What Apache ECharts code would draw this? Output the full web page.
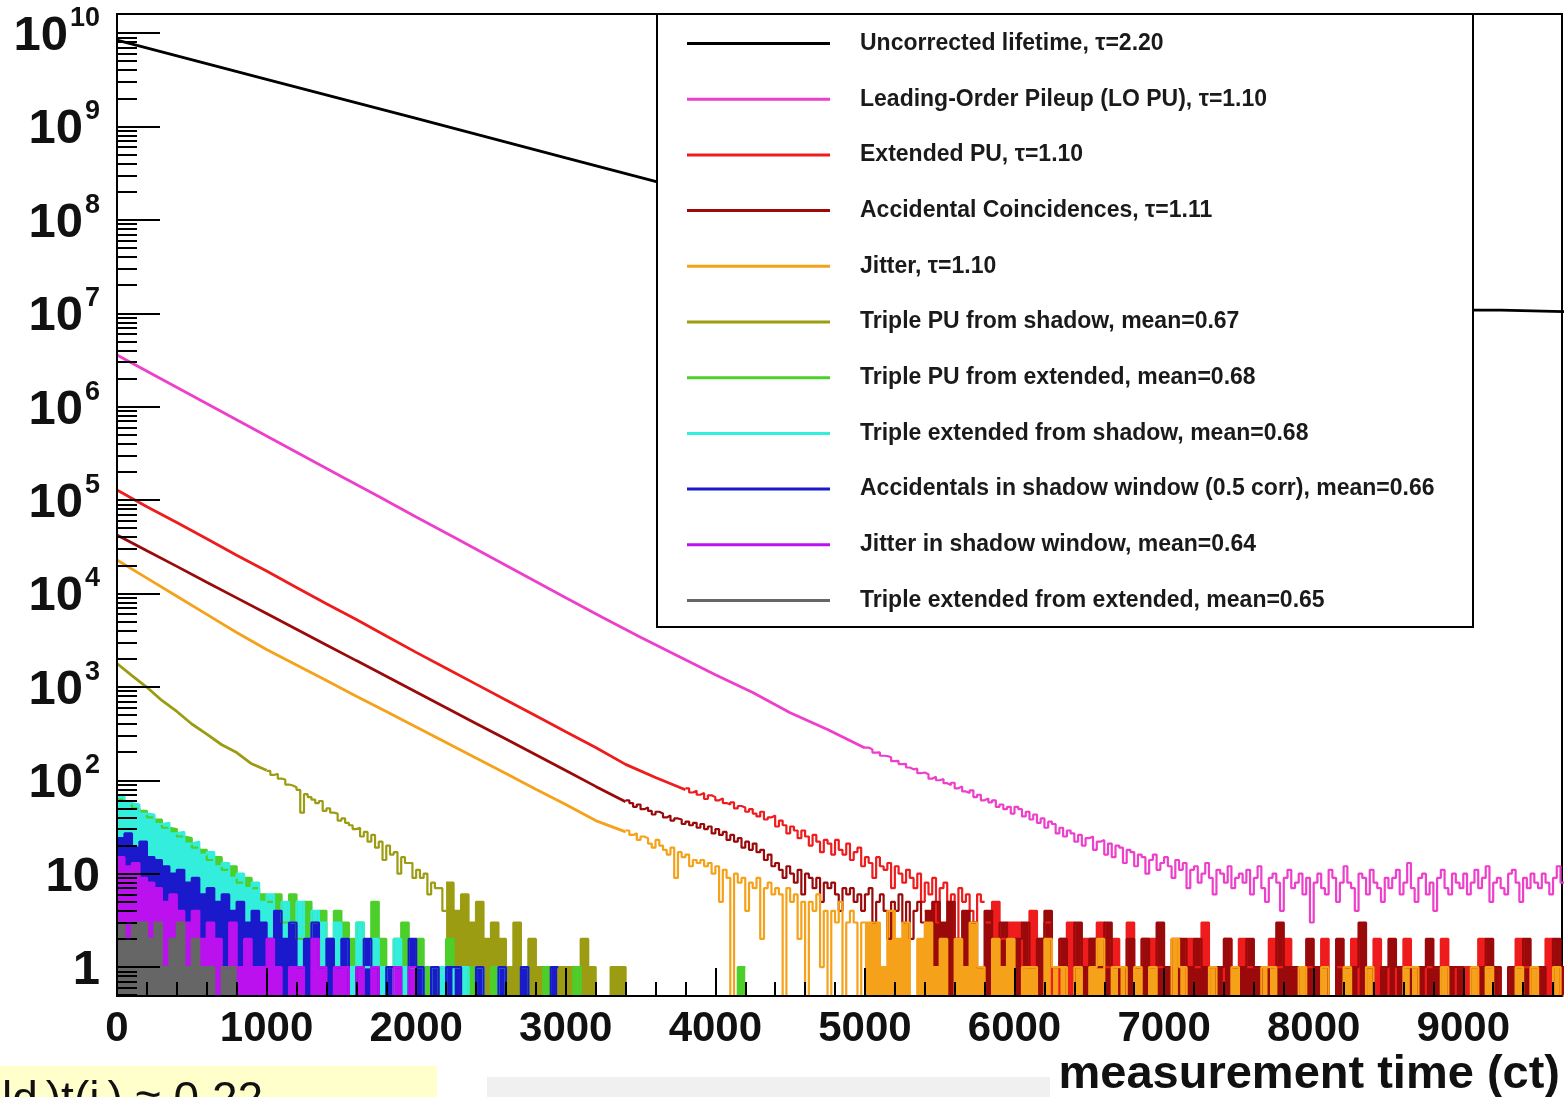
<!DOCTYPE html>
<html>
<head>
<meta charset="utf-8">
<script src="https://cdn.jsdelivr.net/npm/echarts@6/dist/echarts.min.js"></script>
<style>
html,body{margin:0;padding:0;background:#fff;}
#chart{width:1564px;height:1097px;}
</style>
</head>
<body>
<div id="chart"></div>
<script>
// ================= DATA =================
const seriesNames = [
  'Uncorrected lifetime, \u03c4=2.20',
  'Leading-Order Pileup (LO PU), \u03c4=1.10',
  'Extended PU, \u03c4=1.10',
  'Accidental Coincidences, \u03c4=1.11',
  'Jitter, \u03c4=1.10',
  'Triple PU from shadow, mean=0.67',
  'Triple PU from extended, mean=0.68',
  'Triple extended from shadow, mean=0.68',
  'Accidentals in shadow window (0.5 corr), mean=0.66',
  'Jitter in shadow window, mean=0.64',
  'Triple extended from extended, mean=0.65'
];
const xTickValues = [0,1000,2000,3000,4000,5000,6000,7000,8000,9000];
const yTickValues = [1,10,100,1e3,1e4,1e5,1e6,1e7,1e8,1e9,1e10];
const xAxisTitle = 'measurement time (ct)';
const FINE_BIN = 25;   // bin width (ct) of the noisy unfilled parts
const COARSE_BIN = 50; // bin width (ct) of the low-count parts

// Uncorrected lifetime (black)
const blackT = [0,1000,2000,3000,4000];
const blackV = [8.4e9,3.2e9,1.22e9,4.6e8,1.75e8];
const blackEdgeT = [9000,9250,9700];
const blackEdgeV = [1.08e7,1.04e7,1.04e7];

// LO PU (magenta)
const magentaHeadT = [0,250,500,750,1000,1250,1500,1750,2000,2250,2500,2750,3000,3250,3500,3750,4000,4250,4500,4750,5000];
const magentaHeadV = [3570000,2170000,1320000,800000,486000,295000,179000,109000,66000,40300,24400,14800,9000,5500,3400,2140,1350,870,528,350,221];
const magentaMidStart = 5000;
const magentaMidValues = [
 224,214,198,199,183,182,176,160,161,149,150,137,131,133,119,121,116,104,109,100,
 103,93,89,94,82,86,76,73,78,66,70,61,64,58,61,52,55,49,52,44,
 52,49,41,46,38,43,35,39,31,36,34,27,31,25,29,27,22,26,20,24,
 25,18,22,23,16,21,15,20,19,13,18,17,12,16,15,10,14,16,11,13,
 15,12,9,14,11,13,7,11,12,8,10,13,9,6,11,10,8,12,7,9,
 10,8,11,6,9,12,7,5,9,10,8,4,9,11,7,8,10,6,9,3,
 8,10,7,6,11,9,5,8,12,8,7,4,10,9,6,11,8,7,5,9,
 7,9,11,6,8,13,7,5,9,10,6,8,4,9,11,7,6,10,8,7,
 10,6,8,11,7,9,12,5,8,9,7,6,10,11,8,5,9,7,10,8,
 7,10,8,6,9,12,8];

// Extended PU (red)
const redHeadT = [0,200,400,600,800,1000,1200,1400,1600,1800,2000,2200,2400,2600,2800,3000,3200,3400,3600,3800];
const redHeadV = [128000,85000,57500,38500,25700,17400,11600,7760,5250,3510,2340,1585,1070,725,490,331,224,148,107,79];
const redMidStart = 3800;
const redMidValues = [
 82,74,77,70,73,63,69,66,61,64,57,55,58,50,53,51,46,49,44,41,
 46,38,40,42,32,37,33,27,32,29,24,29,25,20,26,22,17,23,21,16,
 23,18,16,21,14,17,19,12,15,13,9,15,12,11,13,7,12,10,8,11,
 9,7,10,5,8,6,9,3,7,8,5,6,2,7,5,6,4,3,6,5];
const redTailStart = 5800;
const redTailCounts = [3,5,2,3,
 3,1,4,2,3,0,2,3,1,2,
 2,3,1,2,0,3,1,2,2,1,
 1,2,0,2,1,3,1,0,2,1,
 2,1,1,0,2,1,2,1,0,1,
 1,2,0,1,1,2,0,1,2,1,
 0,1,2,1,0,1,1,2,0,1,
 1,0,2,1,1,0,1,2,1,0,
 1,2,0,1];

// Accidental coincidences (dark red)
const darkHeadT = [0,200,400,600,800,1000,1200,1400,1600,1800,2000,2200,2400,2600,2800,3000,3200,3400];
const darkHeadV = [42200,28600,19500,13200,8970,6100,4140,2810,1910,1300,881,598,406,276,188,127,86,59];
const darkMidStart = 3400;
const darkMidValues = [
 61,57,52,55,49,51,47,43,46,44,40,42,37,39,38,34,36,33,35,31,
 34,30,32,27,30,26,28,23,26,22,24,19,22,18,21,17,18,14,16,12,
 13,11,9,12,10,8,11,6,10,9,7,9,5,8,7,8,6,4,7,6,
 7,5,6,4,6,7,3,5,6,4,2,5,4,6,3,5,2,4,5,3];
const darkTailStart = 5400;
const darkTailCounts = [4,5,
 3,5,2,4,3,1,4,2,3,2,
 2,3,1,2,4,1,2,0,3,1,
 2,1,3,1,0,2,1,2,1,3,
 1,0,2,1,2,1,0,1,2,1,
 1,2,1,0,1,3,1,1,0,2,
 1,1,0,2,1,1,3,1,0,1,
 2,1,1,0,1,2,1,0,1,1,
 0,1,1,2,1,0,1,1,2,1,
 1,0,2,1];

// Jitter (orange)
const orangeHeadT = [0,200,400,600,800,1000,1200,1400,1600,1800,2000,2200,2400,2600,2800,3000,3200,3400];
const orangeHeadV = [22800,14600,9330,5970,3820,2510,1710,1170,795,545,372,254,173,118,80,55,37,28];
const orangeMidStart = 3400;
const orangeMidValues = [
 29,26,27,23,25,24,21,19,23,20,18,16,19,9,17,15,16,12,14,13,
 14,12,13,10,12,5,11,9,0,10,8,9,4,8,7,9,2,7,8,6,
 7,6,0,7,5,6,2,5,0,5,4,6,1,4,0,4,3,5,0,3,
 4,3,0,3];
const orangeTailStart = 5000;
const orangeTailCounts = [3,3,1,4,2,3,0,2,
 3,1,2,0,2,1,3,1,0,2,
 1,2,0,1,1,0,2,1,1,0,
 1,0,1,2,0,1,1,0,1,0,
 1,0,0,2,1,0,0,0,1,0,
 0,1,0,0,0,1,1,0,0,0,
 1,0,0,1,0,0,1,0,0,1,
 0,0,0,0,1,1,0,0,0,1,
 0,0,0,1,0,1,0,0,0,1,
 0,1,0,0,1,0];

// Triple PU from shadow (olive)
const oliveHeadT = [0,100,200,300,400,500,600,700,800,900,1000];
const oliveHeadV = [1780,1320,990,715,545,400,312,240,198,150,128];
const oliveMidStart = 1000;
const oliveMidValues = [
 126,114,117,104,102,90,88,84,79,45,71,66,62,57,60,47,50,45,44,37,
 39,35,33,30,31,25,28,22,26,19,22,14,20,16,17,10,15,13,13,9,
 11,9,10,6,8,7,7,4];
const oliveTailStart = 2200;
const oliveTailCounts = [8,4,6,3,5,2, 3,2,1,3,0,2,1,1,0,1, 1,0,2,1,0,0,1,1,0];

// Triple PU from extended (green)
const greenStart = 0;
const greenCounts = [62,58,50,47,40,38,31,30,25,24,
 19,18,14,15,11,12,8,9,7,6,
 5,6,3,6,2,5,3,4,2,4,
 3,2,3,1,5,2,1,2,3,1,
 2,1,0,1,2,1,0,1,1,0,
 1,1,0,0,1,0,0,1,0,0,
 0,1,0,0,0,0,0,0,0,0,
 0,0,0,0,0,0,0,0,0,0,
 0,0,0,1];

// Triple extended from shadow (cyan)
const cyanStart = 0;
const cyanCounts = [68,57,55,44,43,34,35,27,28,21,
 22,16,17,12,13,9,10,7,8,5,
 6,4,5,3,5,2,4,3,2,3,
 2,1,3,1,2,1,0,2,1,1,
 1,0,1,1,0,1,1,0,1,0,
 0,1,0];

// Accidentals in shadow window (blue)
const blueStart = 0;
const blueCounts = [24,27,19,22,15,14,12,10,11,8,
 9,6,7,5,6,4,5,3,4,3,
 2,4,2,3,1,2,3,1,2,1,
 2,0,1,2,1,0,1,1,0,2,
 1,0,1,0,1,1,0,0,1,0,
 0,1,0,0,1,0,0,0,1];

// Jitter in shadow window (purple)
const purpleStart = 0;
const purpleCounts = [15,12,13,9,8,7,5,6,4,3,
 4,2,3,2,1,3,1,2,1,1,
 2,1,0,1,1,0,2,1,0,1,
 1,0,1,0,1,0,0,1,0,1];

// Triple extended from extended (gray)
const grayStart = 0;
const grayCounts = [3,2,3,3,2,3,1,2,3,1,2,1,1,0,1,1];

// ================= STYLE / LAYOUT =================
const FONT = 'Liberation Sans, Arial, Helvetica, sans-serif';
const Y_MIN = 0.49, Y_MAX = 1.6e10, X_MAX = 9660;
const ZERO = Y_MIN;  // empty bins drop to the frame bottom
const colors = ['#000000','#ee3fcb','#ee1c1c','#9a0a0a','#f5a21a','#9c9c12','#4ccf2a','#33eedd','#1a1acc','#bb11ee','#666666'];
const LW = 2.8;

function lineSeries(name, color, T, V, width, step) {
  return {
    type: 'line', name: name, color: color,
    data: T.map((t, i) => [t, V[i]]),
    symbol: 'none', showSymbol: false, step: step || false,
    lineStyle: { color: color, width: width || LW },
    clip: true, silent: true, z: 2
  };
}
function histSeries(name, color, start, bin, values, fill) {
  const d = values.map((c, i) => [start + i * bin, c > 0 ? c : ZERO]);
  d.push([start + values.length * bin, d[d.length - 1][1]]);
  const s = {
    type: 'line', name: name, color: color, step: 'end', data: d,
    symbol: 'none', showSymbol: false,
    lineStyle: { color: color, width: 2.2 },
    clip: true, silent: true, z: 2
  };
  if (fill) s.areaStyle = { color: color, opacity: 1, origin: 'start' };
  return s;
}

const series = [
  lineSeries(seriesNames[0], colors[0], blackT, blackV, 2.8),
  lineSeries('edge', colors[0], blackEdgeT, blackEdgeV, 2.6, 'end'),
  lineSeries(seriesNames[1], colors[1], magentaHeadT, magentaHeadV),
  histSeries(seriesNames[1], colors[1], magentaMidStart, FINE_BIN, magentaMidValues, false),
  lineSeries(seriesNames[2], colors[2], redHeadT, redHeadV),
  histSeries(seriesNames[2], colors[2], redMidStart, FINE_BIN, redMidValues, false),
  histSeries(seriesNames[2], colors[2], redTailStart, COARSE_BIN, redTailCounts, true),
  lineSeries(seriesNames[3], colors[3], darkHeadT, darkHeadV),
  histSeries(seriesNames[3], colors[3], darkMidStart, FINE_BIN, darkMidValues, false),
  histSeries(seriesNames[3], colors[3], darkTailStart, COARSE_BIN, darkTailCounts, true),
  lineSeries(seriesNames[4], colors[4], orangeHeadT, orangeHeadV),
  histSeries(seriesNames[4], colors[4], orangeMidStart, FINE_BIN, orangeMidValues, false),
  histSeries(seriesNames[4], colors[4], orangeTailStart, COARSE_BIN, orangeTailCounts, true),
  lineSeries(seriesNames[5], colors[5], oliveHeadT, oliveHeadV),
  histSeries(seriesNames[5], colors[5], oliveMidStart, FINE_BIN, oliveMidValues, false),
  histSeries(seriesNames[5], colors[5], oliveTailStart, COARSE_BIN, oliveTailCounts, true),
  histSeries(seriesNames[6], colors[6], greenStart, COARSE_BIN, greenCounts, true),
  histSeries(seriesNames[7], colors[7], cyanStart, COARSE_BIN, cyanCounts, true),
  histSeries(seriesNames[8], colors[8], blueStart, COARSE_BIN, blueCounts, true),
  histSeries(seriesNames[9], colors[9], purpleStart, COARSE_BIN, purpleCounts, true),
  histSeries(seriesNames[10], colors[10], grayStart, COARSE_BIN, grayCounts, true)
];

const yMinorTicks = [];
[0.1].concat(yTickValues).forEach(d => { for (let k = 2; k <= 9; k++) { const v = d * k; if (v > Y_MIN && v < Y_MAX) yMinorTicks.push(v); } });
const xMinorTicks = [];
for (let i = 0; i + 1 < xTickValues.length; i++) { for (let k = 1; k < 5; k++) xMinorTicks.push(xTickValues[i] + k * 200); }
xMinorTicks.push(9200, 9400, 9600);

const chart = echarts.init(document.getElementById('chart'), null, { renderer: 'canvas' });
chart.setOption({
  animation: false,
  backgroundColor: '#ffffff',
  grid: { left: 117, right: 2, top: 14, bottom: 101, outerBoundsMode: 'none', containLabel: false, show: true, borderColor: '#000', borderWidth: 2, backgroundColor: 'transparent', z: 0 },
  xAxis: [
    {
      type: 'value', min: 0, max: X_MAX, z: 6,
      axisLine: { show: true, onZero: false, lineStyle: { color: '#000', width: 2 } },
      axisTick: { show: true, inside: true, length: 28, customValues: xTickValues, lineStyle: { color: '#000', width: 2 } },
      axisLabel: { customValues: xTickValues, formatter: v => String(v), fontSize: 42, fontWeight: 'bold', fontFamily: FONT, color: '#111', margin: 12 },
      splitLine: { show: false },
      name: xAxisTitle, nameLocation: 'end', nameGap: -2,
      nameTextStyle: { fontSize: 47, fontWeight: 'bold', fontFamily: FONT, color: '#111', align: 'right', verticalAlign: 'top', padding: [56, 0, 0, 0] }
    },
    {
      type: 'value', min: 0, max: X_MAX, position: 'bottom', z: 6,
      axisLine: { show: false, onZero: false },
      axisTick: { show: true, inside: true, length: 14, customValues: xMinorTicks, lineStyle: { color: '#000', width: 2 } },
      axisLabel: { show: false }, splitLine: { show: false }
    }
  ],
  yAxis: [
    {
      type: 'log', min: Y_MIN, max: Y_MAX, z: 6,
      axisLine: { show: true, onZero: false, lineStyle: { color: '#000', width: 2 } },
      axisTick: { show: true, inside: true, length: 43, customValues: yTickValues, lineStyle: { color: '#000', width: 2 } },
      axisLabel: {
        customValues: yTickValues, margin: 17,
        formatter: function (v) {
          const e = Math.round(Math.log10(v));
          if (e === 0) return '{b|1}';
          if (e === 1) return '{b|10}';
          return '{b|10}{s|' + e + '}';
        },
        rich: {
          b: { fontSize: 49, fontWeight: 'bold', fontFamily: FONT, color: '#111', lineHeight: 56, verticalAlign: 'bottom' },
          s: { fontSize: 27, fontWeight: 'bold', fontFamily: FONT, color: '#111', lineHeight: 34, verticalAlign: 'top', padding: [0, 0, 0, 2] }
        }
      },
      splitLine: { show: false }
    },
    {
      type: 'log', min: Y_MIN, max: Y_MAX, position: 'left', z: 6,
      axisLine: { show: false, onZero: false },
      axisTick: { show: true, inside: true, length: 20, customValues: yMinorTicks, lineStyle: { color: '#000', width: 2 } },
      axisLabel: { show: false }, splitLine: { show: false }
    }
  ],
  legend: {
    data: seriesNames, orient: 'vertical', left: 687, top: 32,
    itemWidth: 143, itemHeight: 3, itemGap: 32.7, icon: 'rect',
    selectedMode: false, z: 20, padding: 0,
    formatter: n => '{t|' + n + '}',
    textStyle: {
      rich: { t: { fontSize: 23, fontWeight: 'bold', fontFamily: FONT, color: '#1a1a1a', lineHeight: 25, padding: [0, 0, 0, 25] } }
    }
  },
  graphic: [
    { type: 'rect', z: 15, shape: { x: 657, y: 14, width: 816, height: 613 }, style: { fill: '#ffffff', stroke: '#000', lineWidth: 2 } },
    { type: 'rect', z: 15, shape: { x: 0, y: 1066, width: 437, height: 40 }, style: { fill: '#ffffcc' } },
    { type: 'text', z: 16, left: 2, top: 1078, style: { text: 'ld\u2097)t(i\u2097) \u2248 0.22', fontSize: 46, fontFamily: FONT, fill: '#111' } },
    { type: 'rect', z: 15, shape: { x: 487, y: 1077, width: 563, height: 30 }, style: { fill: '#f0f0f0' } }
  ],
  series: series
});
</script>
</body>
</html>
